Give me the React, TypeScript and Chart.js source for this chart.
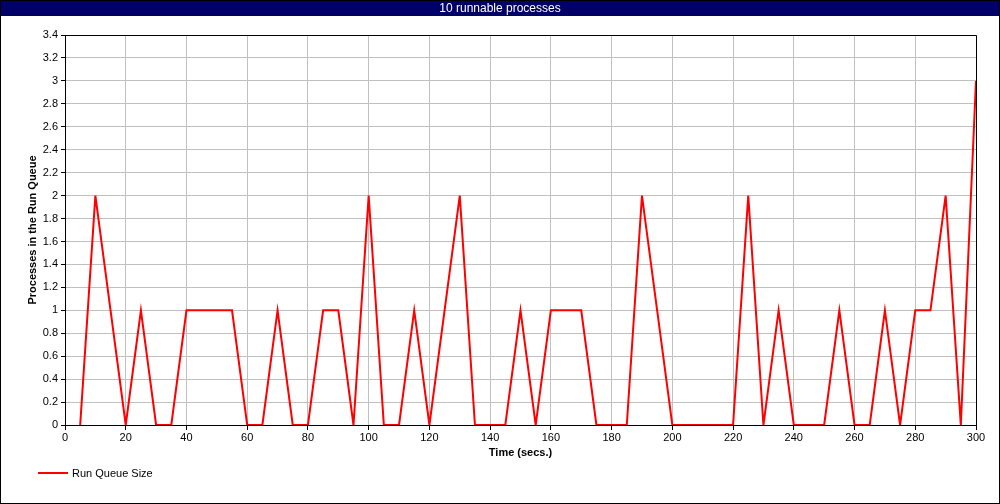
import React, { useEffect, useRef } from 'react';
import { Chart, registerables } from 'chart.js';

Chart.register(...registerables);

const CHART_TITLE = '10 runnable processes';
const SERIES_LABEL = 'Run Queue Size';
const X_TITLE = 'Time (secs.)';
const Y_TITLE = 'Processes in the Run Queue';

const times = [
  5, 10, 15, 20, 25, 30, 35, 40, 45, 50, 55, 60, 65, 70, 75, 80, 85, 90, 95, 100,
  105, 110, 115, 120, 125, 130, 135, 140, 145, 150, 155, 160, 165, 170, 175, 180, 185, 190, 195, 200,
  205, 210, 215, 220, 225, 230, 235, 240, 245, 250, 255, 260, 265, 270, 275, 280, 285, 290, 295, 300,
];
const runQueue = [
  0, 2, 1, 0, 1, 0, 0, 1, 1, 1, 1, 0, 0, 1, 0, 0, 1, 1, 0, 2,
  0, 0, 1, 0, 1, 2, 0, 0, 0, 1, 0, 1, 1, 1, 0, 0, 0, 2, 1, 0,
  0, 0, 0, 0, 2, 0, 1, 0, 0, 0, 1, 0, 0, 1, 0, 1, 1, 2, 0, 3,
];
const xTickValues = [0, 20, 40, 60, 80, 100, 120, 140, 160, 180, 200, 220, 240, 260, 280, 300];
const yTickValues = [0, 0.2, 0.4, 0.6, 0.8, 1, 1.2, 1.4, 1.6, 1.8, 2, 2.2, 2.4, 2.6, 2.8, 3, 3.2, 3.4];

const FONT = '"Liberation Sans", Arial, sans-serif';
const NAVY = '#000066';
const RED = '#ff0000';
const GRID = '#c0c0c0';

const framePlugin = {
  id: 'frame',
  beforeDraw(chart: any) {
    const { ctx, width, height } = chart;
    ctx.save();
    ctx.fillStyle = '#ffffff';
    ctx.fillRect(0, 0, width, height);
    ctx.restore();
  },
  beforeDatasetsDraw(chart: any) {
    const { ctx, chartArea } = chart;
    const l = Math.round(chartArea.left) + 0.5;
    const t = Math.round(chartArea.top) + 0.5;
    const r = Math.round(chartArea.right) + 0.5;
    const b = Math.round(chartArea.bottom) + 0.5;
    ctx.save();
    ctx.strokeStyle = '#000000';
    ctx.lineWidth = 1;
    ctx.beginPath();
    ctx.moveTo(l, t);
    ctx.lineTo(r, t);
    ctx.lineTo(r, b);
    ctx.stroke();
    ctx.restore();
  },
  afterDraw(chart: any) {
    const { ctx, width, height } = chart;
    ctx.save();
    // title bar
    ctx.fillStyle = NAVY;
    ctx.fillRect(0, 0, width, 16);
    ctx.fillStyle = '#ffffff';
    ctx.font = `12px ${FONT}`;
    ctx.textAlign = 'center';
    ctx.textBaseline = 'middle';
    ctx.fillText(CHART_TITLE, width / 2, 8.5);
    // legend
    ctx.strokeStyle = RED;
    ctx.lineWidth = 2;
    ctx.beginPath();
    ctx.moveTo(38, 473);
    ctx.lineTo(68, 473);
    ctx.stroke();
    ctx.fillStyle = '#000000';
    ctx.font = `11px ${FONT}`;
    ctx.textAlign = 'left';
    ctx.textBaseline = 'middle';
    ctx.fillText(SERIES_LABEL, 72, 473.5);
    // outer border
    ctx.strokeStyle = '#000000';
    ctx.lineWidth = 1;
    ctx.strokeRect(0.5, 0.5, width - 1, height - 1);
    ctx.restore();
  },
};

export default function App() {
  const ref = useRef<HTMLCanvasElement | null>(null);

  useEffect(() => {
    document.body.style.margin = '0';
    const canvas = ref.current;
    if (!canvas) return;
    const chart = new Chart(canvas, {
      type: 'line',
      data: {
        datasets: [
          {
            label: SERIES_LABEL,
            data: times.map((t, i) => ({ x: t, y: runQueue[i] })),
            borderColor: RED,
            backgroundColor: RED,
            borderWidth: 2,
            pointRadius: 0,
            tension: 0,
            fill: false,
          },
        ],
      },
      options: {
        responsive: false,
        animation: false,
        events: [],
        layout: { padding: { top: 35, right: 24, left: 0, bottom: 0 } },
        plugins: {
          legend: { display: false },
          title: { display: false },
          tooltip: { enabled: false },
        },
        scales: {
          x: {
            type: 'linear',
            min: 0,
            max: 300,
            afterBuildTicks: (scale: any) => {
              scale.ticks = xTickValues.map((v) => ({ value: v }));
            },
            afterFit: (scale: any) => {
              scale.height = 79;
            },
            ticks: {
              color: '#000000',
              font: { family: FONT, size: 11 },
              padding: 1,
              maxRotation: 0,
              autoSkip: false,
              callback: (v: any) => String(v),
            },
            grid: {
              color: GRID,
              tickColor: '#000000',
              tickLength: 5,
              lineWidth: 1,
            },
            border: { color: '#000000', width: 1 },
            title: {
              display: true,
              text: X_TITLE,
              color: '#000000',
              font: { family: FONT, size: 11, weight: 'bold' },
              padding: { top: 0, bottom: 44 },
            },
          },
          y: {
            type: 'linear',
            min: 0,
            max: 3.4,
            afterBuildTicks: (scale: any) => {
              scale.ticks = yTickValues.map((v) => ({ value: v }));
            },
            afterFit: (scale: any) => {
              scale.width = 65;
            },
            ticks: {
              color: '#000000',
              font: { family: FONT, size: 11 },
              padding: 3,
              autoSkip: false,
              callback: (v: any) => String(Number(Number(v).toFixed(1))),
            },
            grid: {
              color: GRID,
              tickColor: '#000000',
              tickLength: 4,
              lineWidth: 1,
            },
            border: { color: '#000000', width: 1 },
            title: {
              display: true,
              text: Y_TITLE,
              color: '#000000',
              font: { family: FONT, size: 11, weight: 'bold' },
              padding: { top: 26.5, bottom: 0 },
            },
          },
        },
      } as any,
      plugins: [framePlugin],
    });
    return () => chart.destroy();
  }, []);

  return (
    <div style={{ position: 'absolute', left: 0, top: 0, width: 1000, height: 504 }}>
      <canvas ref={ref} width={1000} height={504} style={{ display: 'block', width: 1000, height: 504 }} />
    </div>
  );
}
